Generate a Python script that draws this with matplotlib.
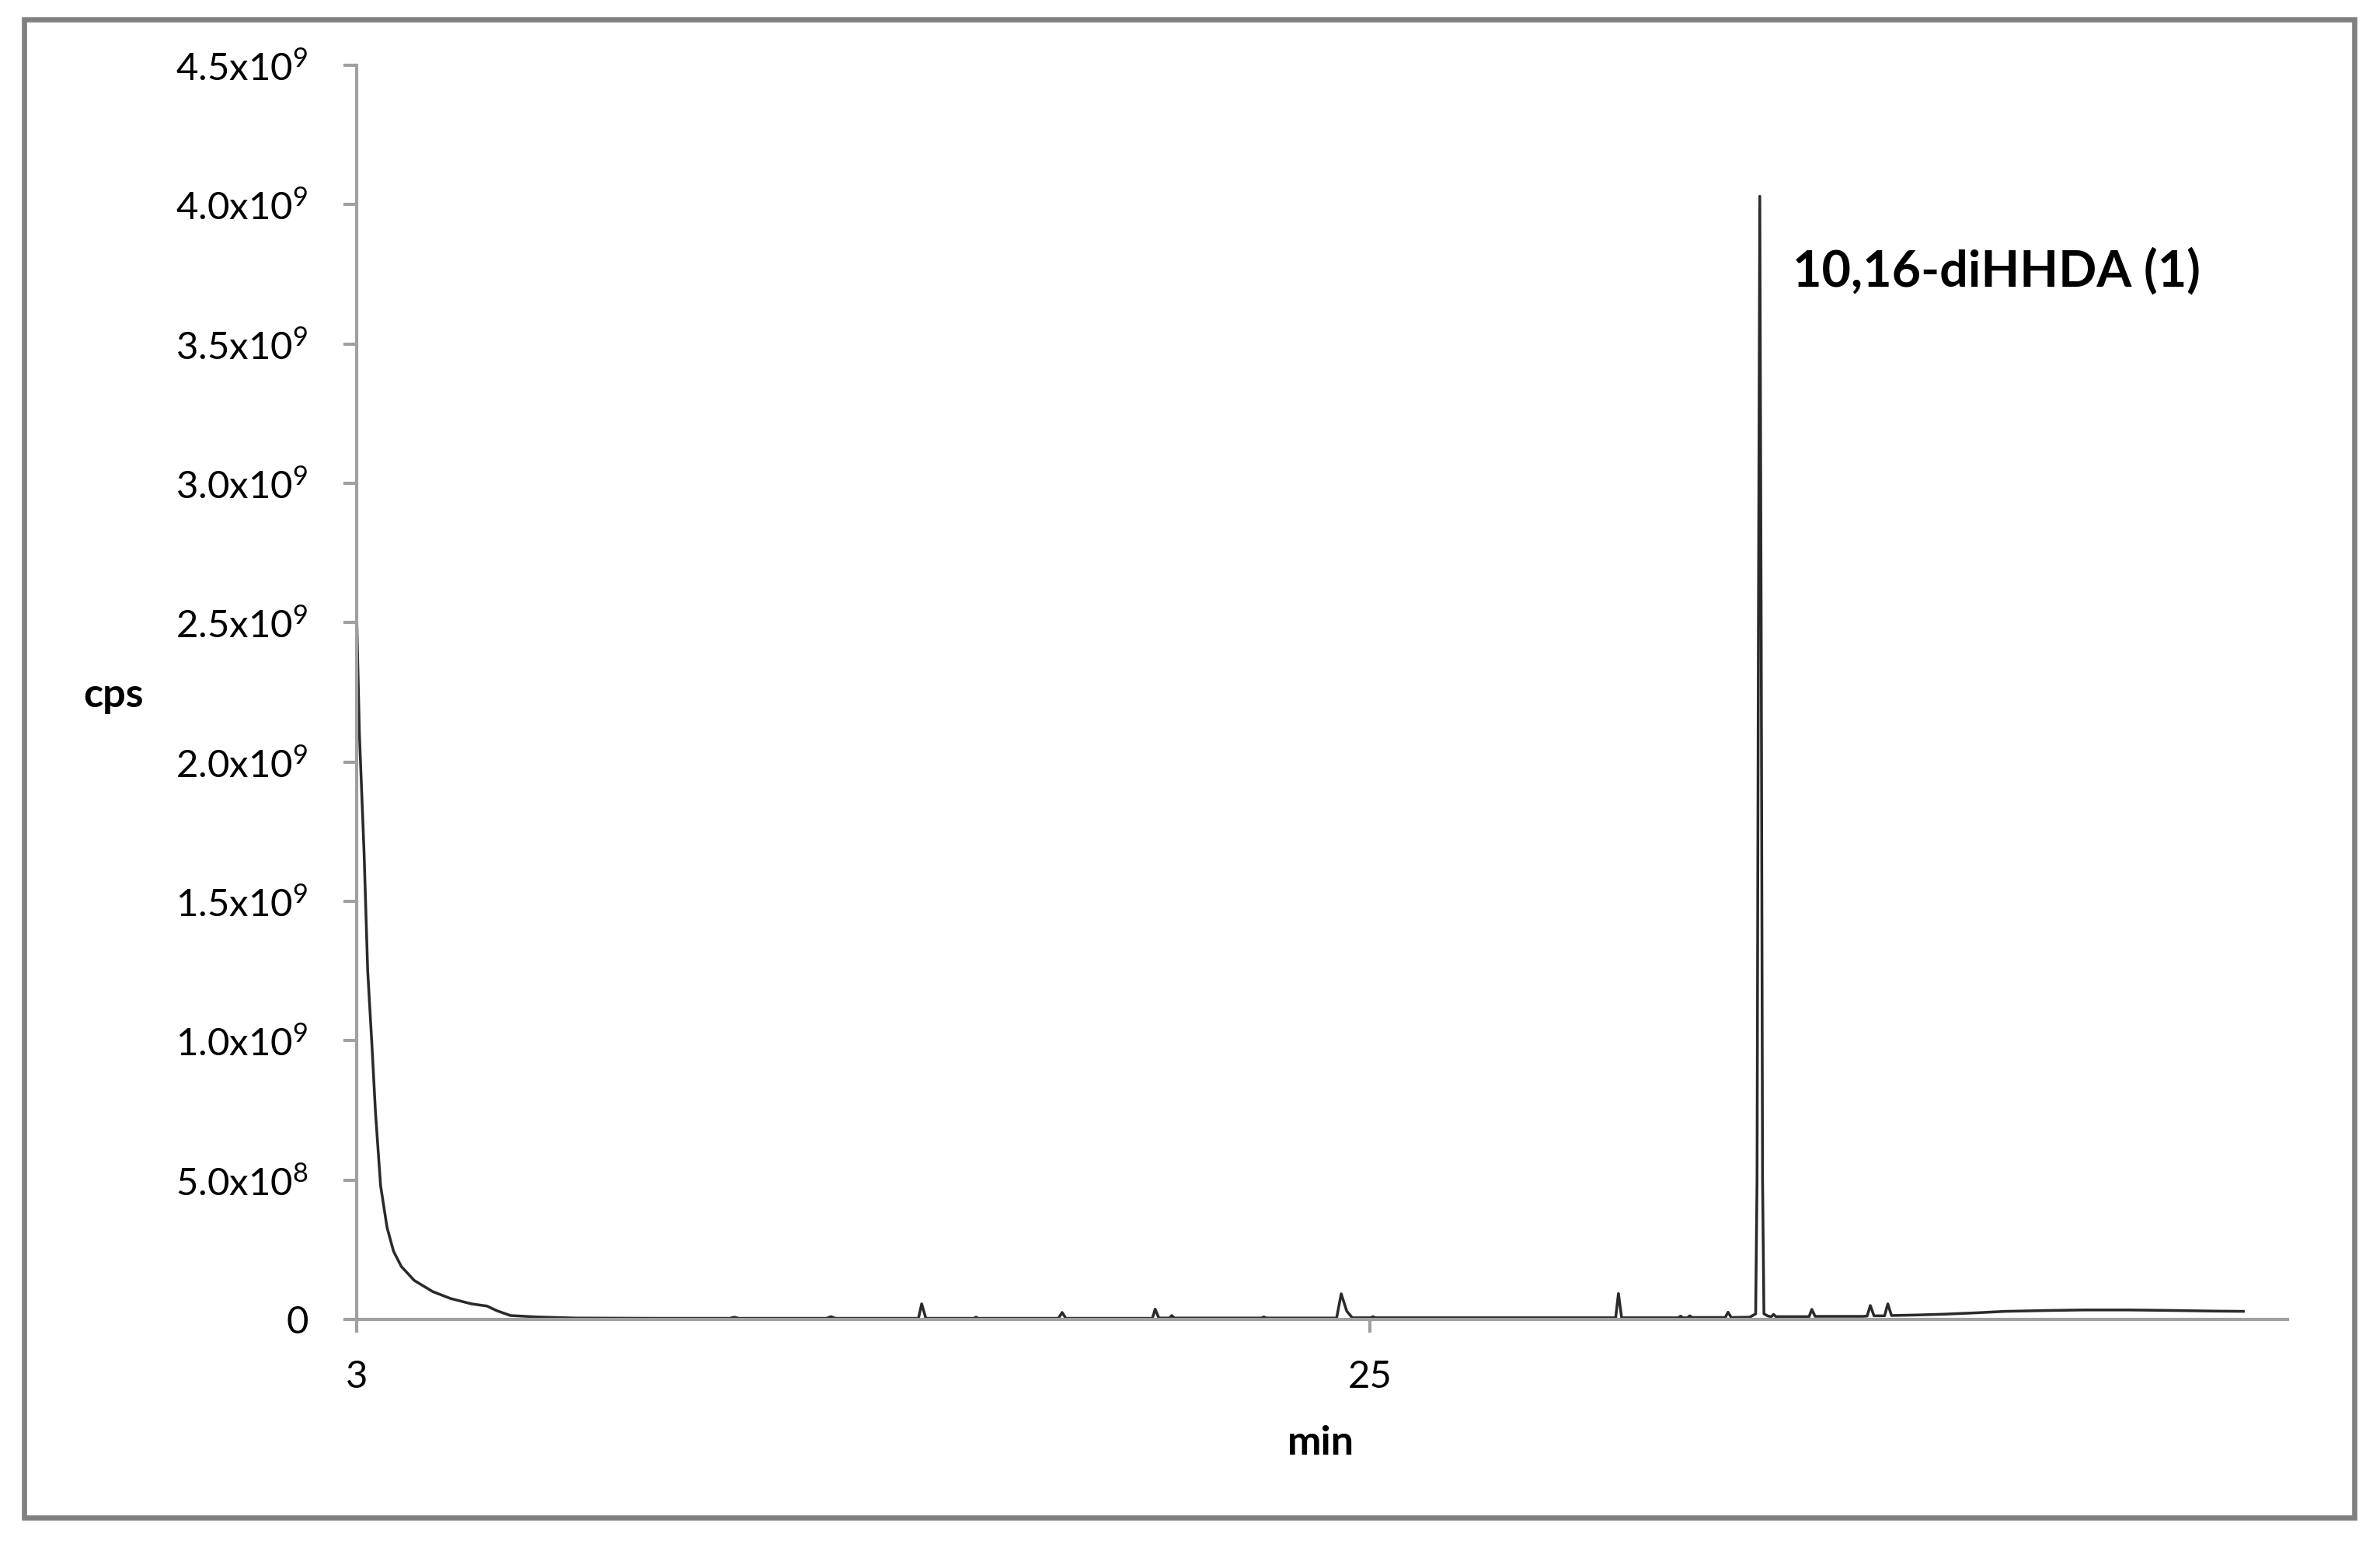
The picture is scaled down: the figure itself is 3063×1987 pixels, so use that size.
import matplotlib
matplotlib.use("Agg")
import matplotlib.pyplot as plt
from matplotlib.patches import Rectangle
import numpy as np

plt.rcParams['font.family'] = ['Lato', 'DejaVu Sans']
plt.rcParams['mathtext.fontset'] = 'custom'
plt.rcParams['mathtext.rm'] = 'Lato'
plt.rcParams['mathtext.it'] = 'Lato'
plt.rcParams['mathtext.bf'] = 'Lato:bold'

# chromatogram trace (retention time in min, signal in 1e9 cps)
time_min = [
    3.00, 3.06, 3.16, 3.24, 3.33, 3.41, 3.52, 3.66, 3.80, 3.97, 4.25, 4.65,
    5.04, 5.49, 5.83, 6.05, 6.34, 6.90, 7.74, 9.50, 11.10, 11.20, 11.30,
    13.20, 13.30, 13.40, 15.20, 15.27, 15.36, 16.40, 16.45, 16.50,
    18.24, 18.32, 18.40, 20.28, 20.34, 20.42, 20.65, 20.70, 20.76,
    22.65, 22.70, 22.75, 24.28, 24.38, 24.50, 24.62, 25.02, 25.07, 25.12,
    30.34, 30.40, 30.47, 31.70, 31.75, 31.80, 31.90, 31.95, 32.00,
    32.72, 32.78, 32.85, 33.25, 33.38, 33.41, 33.44, 33.47, 33.50, 33.53,
    33.56, 33.65, 33.72, 33.77, 33.82, 34.54, 34.60, 34.67, 35.70, 35.80,
    35.87, 35.95, 36.18, 36.25, 36.33, 36.90, 37.50, 38.20, 38.80, 39.70,
    40.50, 41.50, 42.50, 43.30, 43.97,
]
signal_e9 = [
    2.53, 2.10, 1.68, 1.25, 0.99, 0.74, 0.48, 0.33, 0.245, 0.19, 0.14, 0.10,
    0.075, 0.056, 0.048, 0.031, 0.014, 0.009, 0.005, 0.004, 0.004, 0.008, 0.004,
    0.004, 0.010, 0.004, 0.004, 0.056, 0.004, 0.004, 0.008, 0.004,
    0.004, 0.025, 0.004, 0.004, 0.037, 0.005, 0.005, 0.014, 0.005,
    0.005, 0.009, 0.005, 0.005, 0.092, 0.030, 0.006, 0.006, 0.010, 0.006,
    0.006, 0.093, 0.006, 0.006, 0.012, 0.006, 0.006, 0.013, 0.007,
    0.007, 0.026, 0.007, 0.008, 0.020, 0.50, 2.50, 4.03, 2.50, 0.50,
    0.020, 0.012, 0.010, 0.018, 0.010, 0.010, 0.036, 0.011, 0.011, 0.012,
    0.050, 0.013, 0.013, 0.056, 0.014, 0.016, 0.019, 0.024, 0.029, 0.032,
    0.034, 0.034, 0.032, 0.030, 0.029,
]

x_ticks = [3, 25]
y_ticks = [0, 0.5e9, 1.0e9, 1.5e9, 2.0e9, 2.5e9, 3.0e9, 3.5e9, 4.0e9, 4.5e9]
y_tick_labels = ['0', '5.0x10$^{8}$', '1.0x10$^{9}$', '1.5x10$^{9}$', '2.0x10$^{9}$',
                 '2.5x10$^{9}$', '3.0x10$^{9}$', '3.5x10$^{9}$', '4.0x10$^{9}$', '4.5x10$^{9}$']
peak_label = '10,16-diHHDA (1)'

W, H = 3063, 1987
fig = plt.figure(figsize=(W / 300, H / 300), dpi=300)
ax = fig.add_axes([459 / W, 1 - 1698 / H, (2944 - 459) / W, (1698 - 84) / H])

ax.plot(time_min, np.array(signal_e9) * 1e9, color='#2a2a2a', lw=0.85, solid_joinstyle='round')

ax.set_xlim(3, 44.93)
ax.set_ylim(0, 4.5e9)
ax.set_xticks(x_ticks)
ax.set_xticklabels([str(t) for t in x_ticks])
ax.set_yticks(y_ticks)
ax.set_yticklabels(y_tick_labels)

axis_gray = '#a0a0a0'
for side in ['top', 'right']:
    ax.spines[side].set_visible(False)
for side in ['left', 'bottom']:
    ax.spines[side].set_color(axis_gray)
    ax.spines[side].set_linewidth(1.0)
ax.tick_params(axis='both', direction='out', length=4, width=1.0, color=axis_gray,
               labelcolor='black', labelsize=11.8)
ax.tick_params(axis='y', pad=11)
ax.tick_params(axis='x', pad=8.5)

ax.set_ylabel('cps', fontsize=12.5, fontweight='bold', rotation=0, va='center', ha='center')
ax.yaxis.set_label_coords(-0.1258, 0.4975)
ax.set_xlabel('min', fontsize=12.5, fontweight='bold', va='center', ha='center')
ax.xaxis.set_label_coords(0.4994, -0.099)

apex = int(np.argmax(signal_e9))
ax.text(time_min[apex] + 0.72, 3.76e9, peak_label, fontsize=15.5, fontweight='bold',
        ha='left', va='center')

fig.patches.append(Rectangle((31 / W, 1 - 1953 / H), (3030 - 31) / W, (1953 - 25) / H,
                             transform=fig.transFigure, fill=False, ec='#808080', lw=1.6))

fig.savefig('out.png', dpi=300)
